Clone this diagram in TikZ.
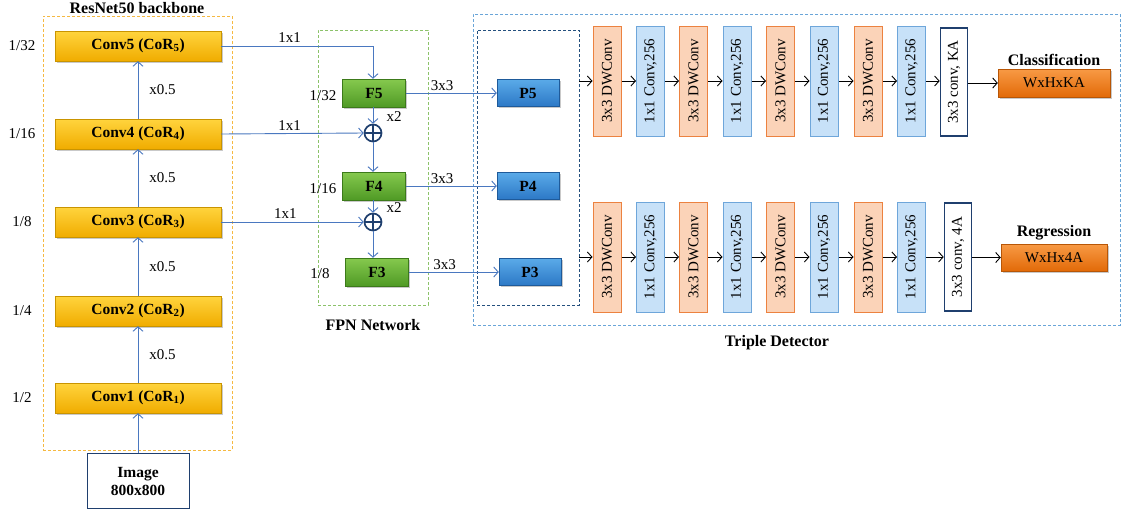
\documentclass[tikz,border=0pt]{standalone}
\usepackage{fontspec}
\setmainfont{Liberation Serif}
\usetikzlibrary{arrows.meta,shadows}
\definecolor{goldT}{HTML}{FFD43D}
\definecolor{goldB}{HTML}{F0AC00}
\definecolor{goldD}{HTML}{C99400}
\definecolor{grnT}{HTML}{86C94E}
\definecolor{grnB}{HTML}{4F9A25}
\definecolor{grnD}{HTML}{3C7A1A}
\definecolor{pblT}{HTML}{5AAAE8}
\definecolor{pblB}{HTML}{2C78C6}
\definecolor{pblD}{HTML}{1E5A9A}
\definecolor{outT}{HTML}{F89A45}
\definecolor{outB}{HTML}{E26A08}
\definecolor{outD}{HTML}{B85606}
\definecolor{lorF}{HTML}{FBD3B8}
\definecolor{lorD}{HTML}{EC8240}
\definecolor{lblF}{HTML}{C7E1F8}
\definecolor{lblD}{HTML}{6EA6DA}
\definecolor{navy}{HTML}{1F3F6E}
\definecolor{conn}{HTML}{4A78C0}
\definecolor{bbDash}{HTML}{F5B942}
\definecolor{fpnDash}{HTML}{8CC26A}
\definecolor{detDash}{HTML}{6AA5D8}
\definecolor{innDash}{HTML}{24507E}
\tikzset{
  base/.style={font=\fontsize{15}{17}\selectfont},
  bold/.style={font=\bfseries\fontsize{15.5}{18}\selectfont},
  shad/.style={drop shadow={shadow xshift=1.5pt,shadow yshift=-1.5pt,opacity=.35,fill=black!60}},
  goldbox/.style={shad,top color=goldT,bottom color=goldB,draw=goldD,minimum width=166pt,minimum height=30pt,inner sep=0pt,bold},
  grnbox/.style={shad,top color=grnT,bottom color=grnB,draw=grnD,minimum width=63pt,minimum height=28pt,inner sep=0pt,bold},
  pbox/.style={shad,top color=pblT,bottom color=pblB,draw=pblD,minimum width=62pt,minimum height=27pt,inner sep=0pt,bold},
  outbox/.style={shad,top color=outT,bottom color=outB,draw=outD,minimum width=110pt,minimum height=28pt,inner sep=0pt,base},
  dwbox/.style={fill=lorF,draw=lorD,line width=1pt,rotate=90,minimum width=110pt,minimum height=28pt,inner sep=0pt,base},
  pwbox/.style={fill=lblF,draw=lblD,line width=1pt,rotate=90,minimum width=110pt,minimum height=28pt,inner sep=0pt,base},
  headbox/.style={fill=white,draw=navy,line width=1.6pt,rotate=90,minimum width=108pt,minimum height=27pt,inner sep=0pt,base},
  lbl/.style={inner sep=0pt,base},
  ttl/.style={inner sep=0pt,font=\bfseries\fontsize{16}{18}\selectfont},
  plus/.style={circle,draw=navy,line width=1.7pt,minimum size=17pt,inner sep=0pt},
  bl/.style={draw=conn,line width=0.9pt,-{Straight Barb[length=4.5pt,width=10pt]}},
  bk/.style={draw=black,line width=0.9pt,-{Straight Barb[length=4.5pt,width=10pt]}},
  frame/.style={dashed,dash pattern=on 3pt off 2pt,line width=0.8pt,inner sep=0pt},
}
\begin{document}
\begin{tikzpicture}[x=1pt,y=-1pt]
\useasboundingbox[fill=white] (0,0) rectangle (1123,515);

% frames
\node[frame,draw=bbDash,minimum width=189pt,minimum height=434pt] (bb) at (137.5,233) {};
\node[frame,draw=fpnDash,minimum width=110pt,minimum height=275pt] (fpn) at (373,167.5) {};
\node[frame,draw=detDash,minimum width=647pt,minimum height=311pt] (det) at (796.5,169.5) {};
\node[frame,draw=innDash,minimum width=102pt,minimum height=275pt] (inn) at (528,167.5) {};

\node[ttl] (bbt) at (137,8) {ResNet50 backbone};
\node[ttl] (fpnt) at (373,325) {FPN Network};
\node[ttl] (dett) at (777,343) {Triple Detector};

% backbone
\node[goldbox] (c5) at (138,46) {Conv5 (CoR\textsubscript{5})};
\node[goldbox] (c4) at (138,134) {Conv4 (CoR\textsubscript{4})};
\node[goldbox] (c3) at (138,222) {Conv3 (CoR\textsubscript{3})};
\node[goldbox] (c2) at (138,311) {Conv2 (CoR\textsubscript{2})};
\node[goldbox] (c1) at (138,398) {Conv1 (CoR\textsubscript{1})};
\node[draw=navy,line width=1pt,fill=white,minimum width=102pt,minimum height=55pt,align=center,bold,inner sep=0pt] (img) at (138,481) {Image\\800x800};

\node[lbl] (s5) at (22,46) {1/32};
\node[lbl] (s4) at (22,134) {1/16};
\node[lbl] (s3) at (22,222) {1/8};
\node[lbl] (s2) at (22,311) {1/4};
\node[lbl] (s1) at (22,398) {1/2};

\draw[bl] (img) -- (c1);
\draw[bl] (c1) -- node[lbl,right=11pt] {x0.5} (c2);
\draw[bl] (c2) -- node[lbl,right=11pt] {x0.5} (c3);
\draw[bl] (c3) -- node[lbl,right=11pt] {x0.5} (c4);
\draw[bl] (c4) -- node[lbl,right=11pt] {x0.5} (c5);

% FPN
\node[grnbox] (f5) at (374,93) {F5};
\node[grnbox] (f4) at (374,186) {F4};
\node[grnbox] (f3) at (377,272) {F3};
\node[plus] (a1) at (373,133) {};
\draw[navy,line width=1.7pt] (a1.north) -- (a1.south) (a1.west) -- (a1.east);
\node[plus] (a2) at (373,222) {};
\draw[navy,line width=1.7pt] (a2.north) -- (a2.south) (a2.west) -- (a2.east);

\node[lbl] (l5) at (323,96) {1/32};
\node[lbl] (l4) at (323,189) {1/16};
\node[lbl] (l3) at (320,274) {1/8};
\node[lbl] (x2a) at (394,117) {x2};
\node[lbl] (x2b) at (394,208) {x2};

\coordinate (k5) at (373,46);
\draw[bl] (c5.east) -- node[lbl,pos=0.45,above=3pt] {1x1} (k5) -- (f5.north -| k5);
\draw[bl] (c4.east) -- node[lbl,pos=0.48,above=3pt] {1x1} (a1.west);
\draw[bl] (c3.east) -- node[lbl,pos=0.45,above=3pt] {1x1} (a2.west);
\draw[bl] (f5.south -| a1) -- (a1.north);
\draw[bl] (a1.south) -- (f4.north -| a1);
\draw[bl] (f4.south -| a2) -- (a2.north);
\draw[bl] (a2.south) -- (f3.north -| a2);

% P boxes
\node[pbox] (p5) at (528,93) {P5};
\node[pbox] (p4) at (528,186) {P4};
\node[pbox] (p3) at (530,272) {P3};
\draw[bl] (f5.east) -- node[lbl,pos=0.4,above=2pt] {3x3} (p5.west);
\draw[bl] (f4.east) -- node[lbl,pos=0.4,above=2pt] {3x3} (p4.west);
\draw[bl] (f3.east) -- node[lbl,pos=0.4,above=2pt] {3x3} (p3.west);

% detector rows (rotated nodes: north = left side, south = right side)
\foreach \r/\yy in {t/81,b/257}{
  \node[dwbox] (\r1) at (607,\yy) {3x3 DWConv};
  \node[pwbox] (\r2) at (650.5,\yy) {1x1 Conv,256};
  \node[dwbox] (\r3) at (693.5,\yy) {3x3 DWConv};
  \node[pwbox] (\r4) at (737,\yy) {1x1 Conv,256};
  \node[dwbox] (\r5) at (780.5,\yy) {3x3 DWConv};
  \node[pwbox] (\r6) at (824,\yy) {1x1 Conv,256};
  \node[dwbox] (\r7) at (868,\yy) {3x3 DWConv};
  \node[pwbox] (\r8) at (911.5,\yy) {1x1 Conv,256};
  \draw[bk] (inn.east |- \r1.north) -- (\r1.north);
  \foreach \i/\j in {1/2,2/3,3/4,4/5,5/6,6/7,7/8}{
    \draw[bk] (\r\i.south) -- (\r\j.north);
  }
}
\node[headbox] (t9) at (954,82) {3x3 conv, KA};
\node[headbox] (b9) at (958,257) {3x3 conv, 4A};
\draw[bk] (t8.south) -- (t9.north |- t8.south);
\draw[bk] (b8.south) -- (b9.north |- b8.south);

\node[outbox,minimum width=112pt] (cls) at (1054,83) {WxHxKA};
\node[outbox,minimum width=106pt,minimum height=27pt] (reg) at (1054,257.5) {WxHx4A};
\node[ttl] (clst) at (1054,60) {Classification};
\node[ttl] (regt) at (1054,233) {Regression};
\draw[bk] (t9.south |- cls.west) -- (cls.west);
\draw[bk] (b9.south |- reg.west) -- (reg.west);
\end{tikzpicture}
\end{document}
